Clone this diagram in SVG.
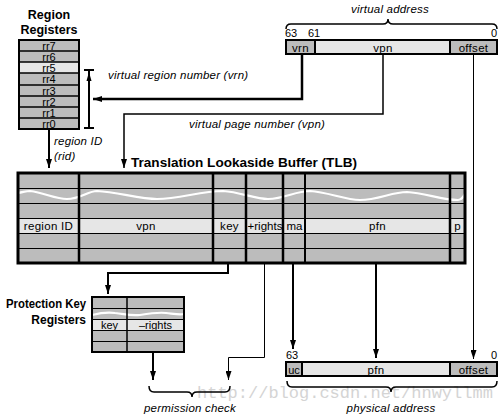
<svg xmlns="http://www.w3.org/2000/svg" width="499" height="417" viewBox="0 0 499 417">
<style>
text{font-family:"Liberation Sans",Arial,sans-serif;fill:#000}
.b{font-weight:bold;font-size:12.5px}
.pk{font-weight:bold;font-size:12px}
.t{font-size:11.5px;letter-spacing:0.3px}
.r{font-size:11px}
.i{font-size:11.5px;font-style:italic;letter-spacing:0.2px}
.g{fill:#bcbcbc}
.l{fill:#e6e6e6}
.ln{stroke:#000;fill:none}
.wave{stroke:#fff;stroke-width:2.2;fill:none}
.wm{font-family:"Liberation Mono","Courier New",monospace;font-size:17px;fill:#d4d4d4}
</style>
<defs>
<marker id="ah" markerUnits="userSpaceOnUse" markerWidth="10" markerHeight="6" refX="9" refY="3" orient="auto">
<path d="M0,0 L9,3 L0,6 z" fill="#000"/>
</marker>
</defs>
<rect width="499" height="417" fill="#fff"/>
<text class="wm" x="197" y="398">http://blog.csdn.net/hnwyllmm</text>

<g id="region-registers">
<text class="b" x="49" y="19" text-anchor="middle">Region</text>
<text class="b" x="49" y="34" text-anchor="middle">Registers</text>
<rect class="g" x="19" y="40" width="60" height="89"/>
<rect class="l" x="19" y="62" width="60" height="11"/>
<g class="ln" stroke-width="1.5">
<path d="M19,51H79M19,62H79M19,73H79M19,85H79M19,96H79M19,107H79M19,118H79"/>
</g>
<rect x="19" y="40" width="60" height="89" class="ln" stroke-width="2"/>
<g class="r" text-anchor="middle">
<text x="49" y="49.5">rr7</text>
<text x="49" y="60.5">rr6</text>
<text x="49" y="71.5">rr5</text>
<text x="49" y="83">rr4</text>
<text x="49" y="94.5">rr3</text>
<text x="49" y="105.5">rr2</text>
<text x="49" y="116.5">rr1</text>
<text x="49" y="127.5">rr0</text>
</g>
</g>

<g id="virtual-address">
<text class="i" x="390" y="13" text-anchor="middle">virtual address</text>
<path class="ln" stroke-width="1.5" d="M286,29 Q286,24 291,24 H383 Q388,24 388,19 Q388,24 393,24 H492 Q497,24 497,29"/>
<text class="r" x="285" y="37">63</text>
<text class="r" x="308" y="37">61</text>
<text class="r" x="497" y="37" text-anchor="end">0</text>
<rect class="l" x="286" y="40" width="211" height="14"/>
<rect class="g" x="286" y="40" width="29" height="14"/>
<rect class="g" x="450" y="40" width="47" height="14"/>
<rect class="ln" x="286" y="40" width="211" height="14" stroke-width="2"/>
<path class="ln" stroke-width="2" d="M315,40V54M450,40V54"/>
<text class="t" x="300.5" y="51.5" text-anchor="middle">vrn</text>
<text class="t" x="383" y="51.5" text-anchor="middle">vpn</text>
<text class="t" x="473.5" y="51.5" text-anchor="middle">offset</text>
</g>

<g id="tlb">
<text class="b" x="131" y="167" textLength="226" lengthAdjust="spacingAndGlyphs">Translation Lookaside Buffer (TLB)</text>
<rect class="g" x="18" y="173" width="447" height="90"/>
<rect class="l" x="18" y="218" width="447" height="15"/>
<path class="ln" stroke-width="1" d="M18,188.5H465M18,203.5H465M18,218.5H465M18,233.5H465M18,248.5H465"/>
<path class="wave" d="M18,193 C24,192 26,191 30,191 C45,193 55,199 67,199 C80,199 88,191 97,191 C117,192 140,199 157,199 C180,199 200,191 223,191 C240,192 255,199 268,199 C285,199 295,191 310,191 C328,192 345,200 360,200 C378,200 392,192 407,192 C425,193 442,200 458,200 C462,200 464,196 466,192"/>
<path class="ln" stroke-width="2.5" d="M79,173V263M213,173V263M246,173V263M283,173V263M450,173V263"/>
<path class="ln" stroke-width="2" d="M305,173V263"/>
<rect class="ln" x="18" y="173" width="447" height="90" stroke-width="3"/>
<g class="t" text-anchor="middle">
<text x="48.5" y="230">region ID</text>
<text x="146" y="230">vpn</text>
<text x="229.5" y="230">key</text>
<text x="265" y="230" letter-spacing="0">+rights</text>
<text x="294.5" y="230" letter-spacing="0">ma</text>
<text x="377.5" y="230">pfn</text>
<text x="457.5" y="230">p</text>
</g>
</g>

<g id="protection-key-registers">
<text class="pk" x="86" y="308" text-anchor="end" textLength="80" lengthAdjust="spacingAndGlyphs">Protection Key</text>
<text class="pk" x="86" y="324" text-anchor="end">Registers</text>
<rect class="g" x="92" y="297" width="92" height="55"/>
<rect class="l" x="92" y="319" width="92" height="11"/>
<path class="ln" stroke-width="1" d="M92,308.5H184M92,319.5H184M92,330.5H184M92,341.5H184"/>
<path class="wave" stroke-width="2" d="M92,315 C100,313 108,312 115,313 C125,314 130,316 140,315 C152,313 158,312 166,313 C175,314 180,315 184,314"/>
<path class="ln" stroke-width="1.5" d="M127,297V352"/>
<rect class="ln" x="92" y="297" width="92" height="55" stroke-width="2"/>
<text class="r" x="109.5" y="328.5" text-anchor="middle">key</text>
<text class="r" x="155.5" y="328.5" text-anchor="middle">–rights</text>
</g>

<g id="physical-address">
<text class="r" x="286" y="359">63</text>
<text class="r" x="497" y="359" text-anchor="end">0</text>
<rect class="l" x="286" y="362" width="211" height="14"/>
<rect class="g" x="286" y="362" width="16" height="14"/>
<rect class="g" x="450" y="362" width="47" height="14"/>
<rect class="ln" x="286" y="362" width="211" height="14" stroke-width="2"/>
<path class="ln" stroke-width="2" d="M302,362V376M450,362V376"/>
<text class="r" x="294" y="373.5" text-anchor="middle">uc</text>
<text class="t" x="376" y="373.5" text-anchor="middle">pfn</text>
<text class="t" x="473.5" y="373.5" text-anchor="middle">offset</text>
<path class="ln" stroke-width="1.5" d="M287,381 Q287,387 292,387 H386 Q391,387 391,392 Q391,387 396,387 H492 Q497,387 497,381"/>
<text class="i" x="391" y="412" text-anchor="middle">physical address</text>
</g>

<g id="permission-check">
<path class="ln" stroke-width="1.5" d="M149,386 Q149,392 154,392 H187 Q192,392 192,397 Q192,392 197,392 H225 Q230,392 230,386"/>
<text class="i" x="190" y="412" text-anchor="middle">permission check</text>
</g>

<g id="connectors">
<path class="ln" stroke-width="2" d="M84,70H94M89,70V128M84,128H94"/>
<path d="M89,72 L86.5,81 L91.5,81 z" fill="#000"/>
<path class="ln" stroke-width="2.5" d="M302,54V99H93" marker-end="url(#ah)"/>
<path class="ln" stroke-width="1.5" d="M383,54V114H124V168" marker-end="url(#ah)"/>
<path class="ln" stroke-width="1" d="M473.5,54V359" marker-end="url(#ah)"/>
<path class="ln" stroke-width="2" d="M49,130V168" marker-end="url(#ah)"/>
<path class="ln" stroke-width="2" d="M228,263V273H108V294" marker-end="url(#ah)"/>
<path class="ln" stroke-width="1" d="M264.5,263V357.5H228.5V380" marker-end="url(#ah)"/>
<path class="ln" stroke-width="2" d="M293,263V349" marker-end="url(#ah)"/>
<path class="ln" stroke-width="2" d="M376,263V358" marker-end="url(#ah)"/>
<path class="ln" stroke-width="2" d="M153,352V380" marker-end="url(#ah)"/>
<text class="i" x="108" y="79">virtual region number (vrn)</text>
<text class="i" x="189" y="128">virtual page number (vpn)</text>
<text class="i" x="54" y="145">region ID</text>
<text class="i" x="54" y="160">(rid)</text>
</g>
</svg>
